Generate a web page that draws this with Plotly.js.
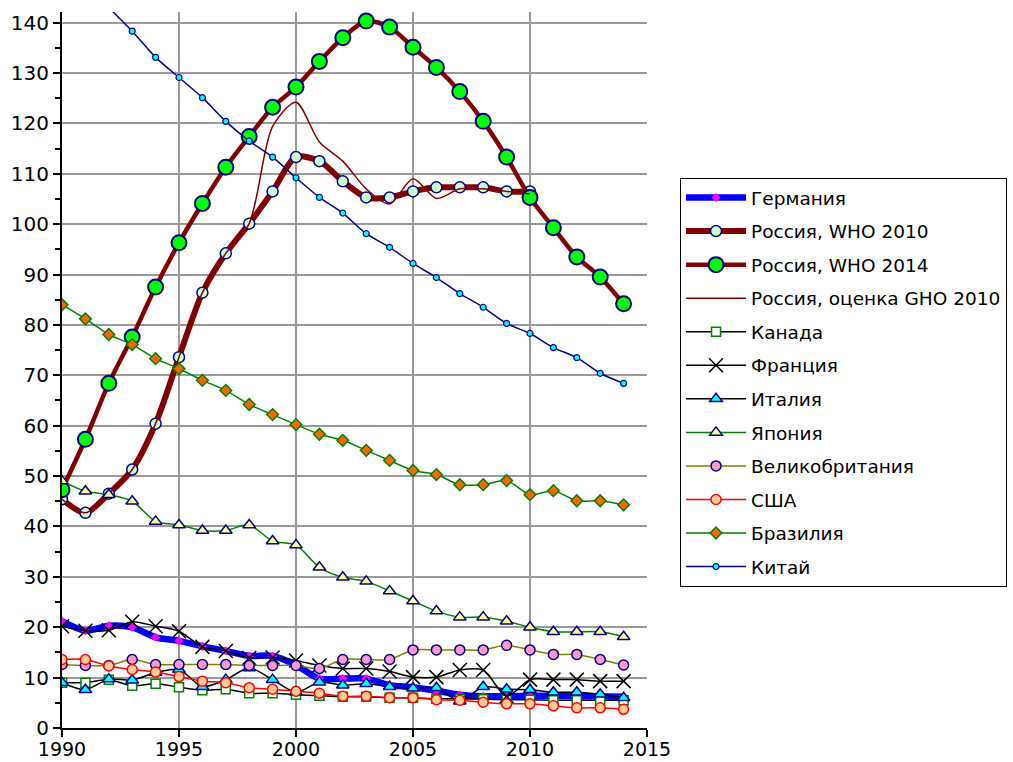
<!DOCTYPE html>
<html>
<head>
<meta charset="utf-8">
<script src="https://cdn.plot.ly/plotly-3.0.1.min.js"></script>
<style>
  html, body { margin: 0; padding: 0; background: #ffffff; }
  #chart { width: 1013px; height: 762px; }
</style>
</head>
<body>
<div id="chart"></div>
<script>
// ---- Data ----
const years = [1990,1991,1992,1993,1994,1995,1996,1997,1998,1999,2000,2001,2002,2003,2004,2005,2006,2007,2008,2009,2010,2011,2012,2013,2014];
const yearsTo2010 = years.slice(0, 21);

const germany = [21.2,19.3,20.3,20.0,18.0,17.3,16.2,15.3,14.3,14.3,12.5,9.8,9.8,9.8,8.5,8.1,7.4,6.6,6.3,6.3,6.4,6.4,6.3,6.3,6.2];
const russiaWho2010 = [45.4,42.7,46.5,51.3,60.4,73.6,86.4,94.2,100.1,106.5,113.3,112.5,108.5,105.3,105.3,106.5,107.3,107.3,107.3,106.5,106.5];
const russiaWho2014 = [47.3,57.3,68.4,77.6,87.5,96.3,104.1,111.3,117.4,123.2,127.2,132.3,137.0,140.3,139.1,135.1,131.1,126.3,120.4,113.3,105.3,99.3,93.5,89.5,84.2];
const russiaGho2010 = [45.4,42.7,46.5,51.3,60.4,73.6,86.4,94.2,100.1,119.4,124.2,116.3,112.5,107.0,104.0,109.0,105.1,107.0,107.0,106.5,106.0];
const canada = [9.0,9.0,9.6,8.4,8.8,8.1,7.5,7.7,6.9,6.9,6.6,6.4,6.2,6.2,6.0,6.0,5.8,5.8,5.7,5.6,5.6,5.5,5.5,5.5,5.5];
const france = [20.2,19.3,19.4,21.1,20.2,19.2,16.1,15.3,13.9,14.0,13.4,12.4,11.8,11.8,11.2,10.1,10.1,11.5,11.5,6.3,9.6,9.6,9.6,9.3,9.3];
const italy = [9.0,7.6,9.7,9.5,11.0,11.6,8.2,9.6,11.9,9.6,7.1,9.1,8.5,8.8,8.2,7.9,8.0,5.3,8.2,7.7,7.6,7.1,7.1,6.7,6.0];
const japan = [49.0,47.0,46.3,45.0,41.0,40.3,39.2,39.2,40.3,37.1,36.3,31.9,29.9,29.1,27.2,25.2,23.2,22.0,22.0,21.2,20.0,19.1,19.1,19.1,18.1];
const uk = [12.6,12.4,12.4,13.6,12.6,12.6,12.6,12.6,12.4,12.4,12.4,11.8,13.6,13.6,13.6,15.5,15.5,15.5,15.5,16.4,15.5,14.6,14.6,13.6,12.5];
const usa = [13.6,13.6,12.3,11.6,11.1,10.2,9.3,9.0,8.0,7.7,7.3,6.9,6.3,6.3,6.0,6.0,5.6,5.5,5.1,4.8,4.8,4.4,4.0,4.0,3.7];
const brazil = [84.0,81.2,78.1,76.1,73.3,71.3,69.0,67.0,64.2,62.2,60.2,58.3,57.1,55.1,53.1,51.1,50.3,48.3,48.3,49.1,46.3,47.1,45.1,45.1,44.3];
const china = [153.0,148.0,143.0,138.3,133.1,129.1,125.1,120.4,116.5,113.3,109.2,105.3,102.2,98.1,95.4,92.2,89.4,86.2,83.5,80.3,78.3,75.5,73.5,70.4,68.4];

const xTicks = [1990,1995,2000,2005,2010,2015];

// ---- Traces ----
const FONT = 'DejaVu Sans, Arial, sans-serif';
function tr(name, x, y, line, marker) {
  const t = {
    type: 'scatter', mode: marker ? 'lines+markers' : 'lines', name: name,
    x: x, y: y, legendgroup: name,
    line: Object.assign({shape: 'spline', smoothing: 0.8}, line),
    hoverinfo: 'skip', cliponaxis: true
  };
  if (marker) t.marker = marker;
  return t;
}
const traces = [
  tr('Германия', years, germany, {color: '#0000ff', width: 6.5},
     {symbol: 'diamond', size: 7, color: '#ff00ff', line: {width: 0}}),
  tr('Россия, WHO 2010', yearsTo2010, russiaWho2010, {color: '#800000', width: 6},
     {symbol: 'circle', size: 11, color: '#ccffcc', line: {color: '#000080', width: 1.5}}),
  tr('Россия, WHO 2014', years, russiaWho2014, {color: '#800000', width: 4.5},
     {symbol: 'circle', size: 15, color: '#00ff00', line: {color: '#000080', width: 2}}),
  tr('Россия, оценка GHO 2010', yearsTo2010, russiaGho2010, {color: '#800000', width: 1.5}, null),
  tr('Канада', years, canada, {color: '#000000', width: 1.5},
     {symbol: 'square', size: 9, color: '#ffffff', line: {color: '#008000', width: 1.5}}),
  tr('Франция', years, france, {color: '#000000', width: 1.5},
     {symbol: 'x-thin-open', size: 14, color: '#000000', line: {color: '#000000', width: 1.5}}),
  tr('Италия', years, italy, {color: '#000000', width: 1.5},
     {symbol: 'triangle-up', size: 11, color: '#00ffff', line: {color: '#000080', width: 1.5}}),
  tr('Япония', years, japan, {color: '#008000', width: 1.5},
     {symbol: 'triangle-up', size: 11, color: '#ffff99', line: {color: '#000080', width: 1.5}}),
  tr('Великобритания', years, uk, {color: '#808000', width: 1.5},
     {symbol: 'circle', size: 10, color: '#ff99cc', line: {color: '#000080', width: 1.5}}),
  tr('США', years, usa, {color: '#ff0000', width: 1.5},
     {symbol: 'circle', size: 10, color: '#ffcc99', line: {color: '#ff0000', width: 1.5}}),
  tr('Бразилия', years, brazil, {color: '#008000', width: 1.5},
     {symbol: 'diamond', size: 9, color: '#ff6600', line: {color: '#008000', width: 1.5}}),
  tr('Китай', years, china, {color: '#000080', width: 1.5},
     {symbol: 'circle', size: 6, color: '#00ffff', line: {color: '#000080', width: 1.2}})
];

const layout = {
  width: 1013, height: 762,
  margin: {l: 62, r: 366, t: 12, b: 34, pad: 0, autoexpand: false},
  paper_bgcolor: '#ffffff', plot_bgcolor: '#ffffff',
  font: {family: FONT, size: 19, color: '#000000'},
  showlegend: true,
  xaxis: {
    range: [1990, 2015], tickvals: xTicks, ticktext: xTicks.map(String),
    ticks: 'outside', ticklen: 7, tickwidth: 2, tickcolor: '#000000',
    ticklabelstandoff: -4,
    showline: true, linecolor: '#000000', linewidth: 2,
    showgrid: true, gridcolor: '#999999', gridwidth: 2, zeroline: false,
    tickfont: {family: FONT, size: 19, color: '#000000'}, fixedrange: true
  },
  yaxis: {
    range: [0, 142.1], tick0: 0, dtick: 10,
    ticks: 'outside', ticklen: 7, tickwidth: 2, tickcolor: '#000000',
    minor: {dtick: 5, ticks: 'outside', ticklen: 5, tickwidth: 2, tickcolor: '#000000', showgrid: false},
    showline: true, linecolor: '#000000', linewidth: 2,
    showgrid: true, gridcolor: '#999999', gridwidth: 2, zeroline: false,
    tickfont: {family: FONT, size: 20, color: '#000000'}, fixedrange: true
  },
  legend: {
    xref: 'container', yref: 'container',
    x: 0.6713, y: 0.7664, xanchor: 'left', yanchor: 'top',
    bgcolor: '#ffffff', bordercolor: '#000000', borderwidth: 1,
    font: {family: FONT, size: 18.5, color: '#000000'},
    traceorder: 'grouped', tracegroupgap: 6.5, itemwidth: 60,
    maxheight: 480
  }
};

Plotly.newPlot('chart', traces, layout, {staticPlot: true, displayModeBar: false});
</script>
</body>
</html>
